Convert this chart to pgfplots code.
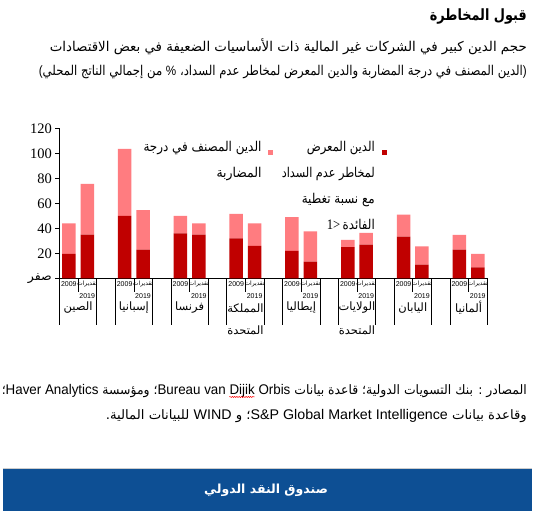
\documentclass[border=0pt]{standalone}
\usepackage{fontspec}
\usepackage{graphicx}
\usepackage{pgfplots}
\pgfplotsset{compat=1.18}
\usetikzlibrary{decorations.pathmorphing}
\TeXXeTstate=1
\setmainfont{Liberation Sans}
\newfontfamily\latin{Liberation Sans}
\newfontfamily\serif{Liberation Serif}
\newfontfamily\arabicfont[Script=Arabic]{DejaVu Sans}
\definecolor{darkred}{HTML}{C00000}
\definecolor{lightred}{HTML}{FF7C80}
\definecolor{imfblue}{HTML}{0D4F94}
\newcommand{\subfont}{\arabicfont\fontsize{13.5}{15}\selectfont}
\newsavebox\wbox
\newsavebox\tbox
\newcommand{\wavy}[1]{\sbox\wbox{#1}\usebox\wbox\llap{\raisebox{-3.5pt}{\tikz\draw[red,line width=0.5pt,decorate,decoration={snake,amplitude=0.6pt,segment length=2.4pt}] (0pt,0pt)--(\wd\wbox,0pt);}}}
% scale a line horizontally to a given width
\newcommand{\fitw}[2]{\sbox\tbox{#2}\pgfmathsetmacro\fitfac{#1/\wd\tbox}\scalebox{\fitfac}[1]{\usebox\tbox}}
\begin{document}
\begin{tikzpicture}
\path[use as bounding box] (0pt,0pt) rectangle (534pt,-511pt);
\fill[white] (0pt,0pt) rectangle (534pt,-511pt);
% title and subtitle
\node[anchor=east, inner sep=0pt] at (527pt,-17pt) {\fitw{97pt}{\arabicfont\bfseries\fontsize{15.5}{18}\selectfont\beginR قبول المخاطرة\endR}};
\node[anchor=east, inner sep=0pt] at (527pt,-47pt) {\fitw{477pt}{\subfont\beginR حجم الدين كبير في الشركات غير المالية ذات الأساسيات الضعيفة في بعض الاقتصادات\endR}};
\node[anchor=east, inner sep=0pt] at (527pt,-72pt) {\fitw{488pt}{\subfont\beginR{\latin)}الدين المصنف في درجة المضاربة والدين المعرض لمخاطر عدم السداد، {\latin\%} من إجمالي الناتج المحلي{\latin(}\endR}};

\begin{axis}[
  at={(59.3pt,-278.3pt)}, anchor=south west,
  scale only axis, width=428pt, height=150pt,
  xmin=-0.336, xmax=7.336, ymin=0, ymax=120,
  axis x line=bottom, axis y line=left,
  axis line style={-, black, line width=0.6pt},
  xtick=\empty,
  ytick={0,20,40,60,80,100,120},
  yticklabels={{\arabicfont\fontsize{12.5}{14}\selectfont صفر},20,40,60,80,100,120},
  yticklabel style={font=\serif\fontsize{14.5}{16}\selectfont},
  tick style={black, line width=0.6pt}, major tick length=4pt, tick align=outside,
  ybar stacked, bar width=13.5pt,
  clip=false,
]
\addplot[fill=darkred, draw=none] coordinates {
 (-0.165,19.5) (0.165,35)
 (0.835,50) (1.165,23)
 (1.835,36) (2.165,35)
 (2.835,32) (3.165,26)
 (3.835,22) (4.165,13.3)
 (4.835,25) (5.165,27)
 (5.835,33.3) (6.165,11)
 (6.835,23) (7.165,8.8)
};
\addplot[fill=lightred, draw=none] coordinates {
 (-0.165,24.5) (0.165,40.5)
 (0.835,53.5) (1.165,31.5)
 (1.835,14) (2.165,9)
 (2.835,19.5) (3.165,18)
 (3.835,27) (4.165,24.2)
 (4.835,5.7) (5.165,9.3)
 (5.835,17.7) (6.165,14.6)
 (6.835,11.7) (7.165,10.7)
};
\pgfplotsinvokeforeach{0,...,7}{
  \draw[black, line width=0.6pt] ([xshift=-18.75pt]axis cs:#1,0) -- ++(0pt,-47pt);
  \draw[black, line width=0.6pt] ([xshift=18.75pt]axis cs:#1,0) -- ++(0pt,-47pt);
  \draw[black, line width=0.6pt] (axis cs:#1,0) -- ++(0pt,-14pt);
  \node[inner sep=0pt, font=\latin\fontsize{7}{8}\selectfont] at ([xshift=-9.2pt,yshift=-5.3pt]axis cs:#1,0) {2009};
  \node[inner sep=0pt, font=\arabicfont\fontsize{6}{7}\selectfont] at ([xshift=9.2pt,yshift=-5.3pt]axis cs:#1,0) {تقديرات};
  \node[inner sep=0pt, font=\latin\fontsize{7}{8}\selectfont] at ([xshift=9.2pt,yshift=-18pt]axis cs:#1,0) {2019};
}
\node[inner sep=0pt, font=\arabicfont\fontsize{11.5}{13}\selectfont] at ([yshift=-29.7pt]axis cs:0,0) {الصين};
\node[inner sep=0pt, font=\arabicfont\fontsize{11.5}{13}\selectfont] at ([yshift=-29.7pt]axis cs:1,0) {إسبانيا};
\node[inner sep=0pt, font=\arabicfont\fontsize{11.5}{13}\selectfont] at ([yshift=-29.7pt]axis cs:2,0) {فرنسا};
\node[inner sep=0pt, font=\arabicfont\fontsize{11.5}{13}\selectfont] at ([yshift=-29.7pt]axis cs:3,0) {المملكة};
\node[inner sep=0pt, font=\arabicfont\fontsize{11.5}{13}\selectfont] at ([yshift=-51.7pt]axis cs:3,0) {المتحدة};
\node[inner sep=0pt, font=\arabicfont\fontsize{11.5}{13}\selectfont] at ([yshift=-29.7pt]axis cs:4,0) {إيطاليا};
\node[inner sep=0pt, font=\arabicfont\fontsize{11.5}{13}\selectfont] at ([yshift=-29.7pt]axis cs:5,0) {الولايات};
\node[inner sep=0pt, font=\arabicfont\fontsize{11.5}{13}\selectfont] at ([yshift=-51.7pt]axis cs:5,0) {المتحدة};
\node[inner sep=0pt, font=\arabicfont\fontsize{11.5}{13}\selectfont] at ([yshift=-29.7pt]axis cs:6,0) {اليابان};
\node[inner sep=0pt, font=\arabicfont\fontsize{11.5}{13}\selectfont] at ([yshift=-29.7pt]axis cs:7,0) {ألمانيا};
\end{axis}

% legend
\fill[darkred] (381.5pt,-149.5pt) rectangle (386.5pt,-154.5pt);
\fill[lightred] (267.5pt,-149.5pt) rectangle (272.5pt,-154.5pt);
\node[anchor=east, inner sep=0pt] at (375pt,-148.3pt) {\fitw{68pt}{\subfont\beginR الدين المعرض\endR}};
\node[anchor=east, inner sep=0pt] at (375pt,-174.3pt) {\fitw{93pt}{\subfont\beginR لمخاطر عدم السداد\endR}};
\node[anchor=east, inner sep=0pt] at (375pt,-200pt) {\fitw{73pt}{\subfont\beginR مع نسبة تغطية\endR}};
\node[anchor=east, inner sep=0pt] at (375pt,-225pt) {\fitw{48pt}{{\serif\fontsize{14.5}{16}\selectfont 1>} {\subfont الفائدة}}};
\node[anchor=east, inner sep=0pt] at (261.7pt,-148.3pt) {\fitw{118pt}{\subfont\beginR الدين المصنف في درجة\endR}};
\node[anchor=east, inner sep=0pt] at (261.7pt,-174.3pt) {\fitw{45pt}{\subfont\beginR المضاربة\endR}};

% sources
\node[anchor=east, inner sep=0pt] at (527pt,-391pt) {\fitw{525pt}{\arabicfont\fontsize{13}{15}\selectfont\beginR المصادر : بنك التسويات الدولية؛ قاعدة بيانات \beginL{\latin\fontsize{14}{16}\selectfont Bureau van \wavy{Dijik} Orbis}\endL؛ ومؤسسة \beginL{\latin\fontsize{14}{16}\selectfont Haver Analytics}\endL؛\endR}};
\node[anchor=east, inner sep=0pt] at (527pt,-416pt) {\fitw{421pt}{\arabicfont\fontsize{13}{15}\selectfont\beginR وقاعدة بيانات \beginL{\latin\fontsize{14}{16}\selectfont S\&P Global Market Intelligence}\endL؛ و \beginL{\latin\fontsize{14}{16}\selectfont WIND}\endL{} للبيانات المالية.\endR}};

% banner
\fill[imfblue] (2.5pt,-469pt) rectangle (532pt,-511pt);
\draw[black!20, line width=0.8pt] (2.5pt,-468.6pt) -- (532pt,-468.6pt);
\node[inner sep=0pt, text=white] at (266pt,-490pt) {\arabicfont\bfseries\fontsize{12.5}{15}\selectfont\beginR صندوق النقد الدولي\endR};
\end{tikzpicture}
\end{document}
